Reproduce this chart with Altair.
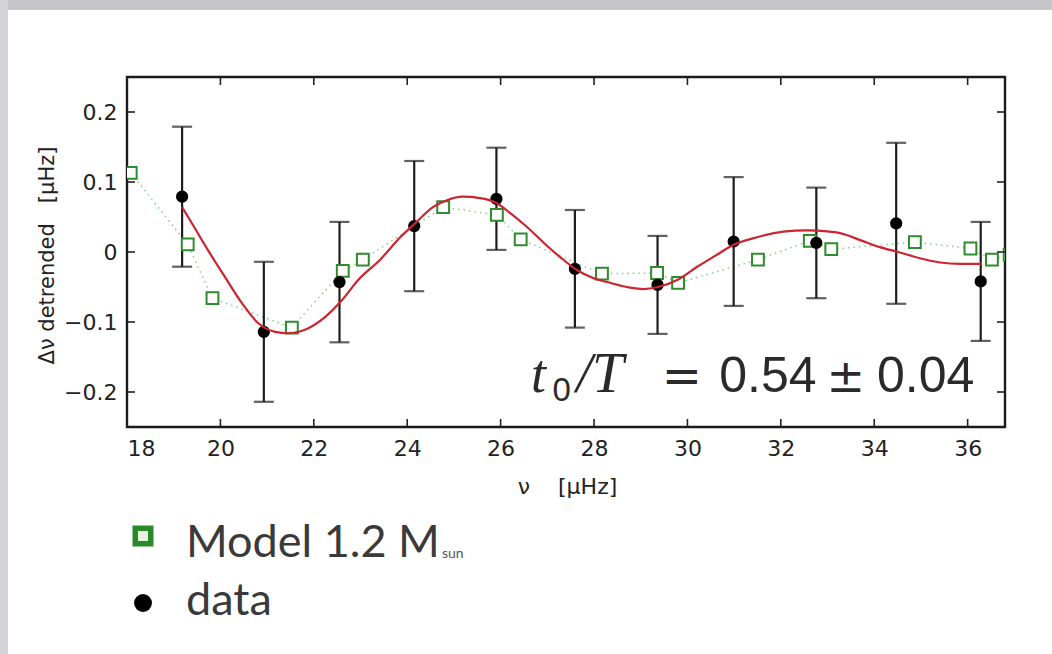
import altair as alt
import pandas as pd

# Observed mode frequencies (muHz), detrended large-separation residuals and 1-sigma errors
data_nu = [19.18, 20.93, 22.55, 24.15, 25.91, 27.59, 29.36, 30.99, 32.76, 34.47, 36.28]
data_dnu = [0.079, -0.114, -0.043, 0.037, 0.076, -0.024, -0.047, 0.015, 0.013, 0.041, -0.042]
data_err = [0.100, 0.100, 0.086, 0.093, 0.073, 0.084, 0.070, 0.092, 0.079, 0.115, 0.085]

# Stellar model (1.2 solar masses)
model_nu = [18.08, 19.30, 19.83, 21.53, 22.62, 23.05, 24.77, 25.92, 26.43, 28.17,
            29.35, 29.80, 31.51, 32.62, 33.08, 34.87, 36.06, 36.52, 36.90]
model_dnu = [0.113, 0.011, -0.066, -0.108, -0.027, -0.011, 0.064, 0.053, 0.018, -0.031,
             -0.030, -0.044, -0.011, 0.016, 0.004, 0.014, 0.005, -0.011, -0.004]

# Fitted oscillatory signal
fit_nu = [19.18, 19.39, 19.73, 20.10, 20.46, 20.80, 21.17, 21.45, 21.81, 22.24, 22.60,
          22.95, 23.42, 23.85, 24.17, 24.55, 24.85, 25.19, 25.56, 25.88, 26.20, 26.56,
          26.91, 27.27, 27.64, 27.98, 28.34, 28.77, 29.05, 29.37, 29.78, 30.21, 30.63,
          30.98, 31.49, 32.05, 32.56, 33.05, 33.27, 33.70, 34.12, 34.51, 34.98, 35.41,
          35.84, 36.31]
fit_dnu = [0.064, 0.041, 0.003, -0.036, -0.073, -0.101, -0.114, -0.116, -0.111, -0.093,
           -0.069, -0.040, -0.011, 0.021, 0.041, 0.064, 0.074, 0.079, 0.077, 0.071, 0.056,
           0.036, 0.014, -0.007, -0.026, -0.037, -0.044, -0.051, -0.053, -0.050, -0.040,
           -0.021, -0.004, 0.010, 0.021, 0.029, 0.031, 0.029, 0.027, 0.017, 0.007, 0.0,
           -0.009, -0.015, -0.017, -0.017]

x_ticks = [18, 20, 22, 24, 26, 28, 30, 32, 34, 36]
y_ticks = [-0.2, -0.1, 0.0, 0.1, 0.2]
x_domain = [18, 36.8]
y_domain = [-0.25, 0.25]

series_names = ["Model 1.2 M", "data"]

# Fit result annotation, pieced together in data coordinates
ann_text = ["t", "0", "/T", "=", "0.54", "±", "0.04"]
ann_x = [26.65, 27.11, 27.62, 29.45, 30.68, 32.98, 34.06]
ann_y = [-0.200, -0.213, -0.200, -0.200, -0.200, -0.200, -0.200]
ann_font = ["Liberation Serif", "Liberation Sans", "Liberation Serif", "DejaVu Sans",
            "Liberation Sans", "DejaVu Sans", "Liberation Sans"]
ann_style = ["italic", "normal", "italic", "normal", "normal", "normal", "normal"]
ann_size = [54, 33, 57, 48, 50, 46, 50]

W, H = 878, 350
PAD_L, PAD_T = 127, 77
NB = "\u00a0"

pts = pd.concat([
    pd.DataFrame({"nu": model_nu, "dnu": model_dnu, "series": series_names[0]}),
    pd.DataFrame({"nu": data_nu, "dnu": data_dnu, "series": series_names[1]}),
], ignore_index=True)
pts["order"] = range(len(pts))

err = pd.DataFrame({"nu": data_nu,
                    "lo": [v - e for v, e in zip(data_dnu, data_err)],
                    "hi": [v + e for v, e in zip(data_dnu, data_err)]})
model_df = pd.DataFrame({"nu": model_nu, "dnu": model_dnu})
fit_df = pd.DataFrame({"nu": fit_nu, "dnu": fit_dnu})

xs = alt.Scale(domain=x_domain, nice=False, zero=False)
ys = alt.Scale(domain=y_domain, nice=False, zero=False)

AX_FONT = "DejaVu Sans"
x_axis = alt.Axis(values=x_ticks, format="d", ticks=False, domain=False, grid=False,
                  labelFont=AX_FONT, labelFontSize=22, labelColor="#222",
                  labelPadding=11, title=f"ν{NB}{NB}{NB}{NB}[μHz]", titleFont=AX_FONT,
                  titleFontSize=22, titleFontWeight="normal", titleColor="#222",
                  titleX=W / 2 + 1, titleY=59, titleBaseline="middle")
y_axis = alt.Axis(values=y_ticks, format=".1~f", ticks=False, domain=False, grid=False,
                  labelFont=AX_FONT, labelFontSize=22, labelColor="#222",
                  labelPadding=10, title=f"Δν{NB}detrended{NB}{NB}{NB}[μHz]", titleFont=AX_FONT,
                  titleFontSize=21, titleFontWeight="normal", titleColor="#222",
                  titleX=-80, titleY=H / 2 + 3, titleBaseline="middle", titleAlign="center",
                  titleAngle=-90)

one = alt.Data(values=[{"k": 1}])

# Grey page border strips
top_strip = alt.Chart(one).mark_rect(color="#c6c6ca").encode(
    x=alt.value(-PAD_L), x2=alt.value(1052 - PAD_L),
    y=alt.value(-PAD_T), y2=alt.value(10 - PAD_T))
left_strip = alt.Chart(one).mark_rect(color="#d4d4d8").encode(
    x=alt.value(-PAD_L), x2=alt.value(8 - PAD_L),
    y=alt.value(-PAD_T), y2=alt.value(654 - PAD_T))

model_line = alt.Chart(model_df).mark_line(
    color="#6cbf6c", strokeWidth=1.5, strokeDash=[1.5, 4], opacity=0.8, clip=True
).encode(x=alt.X("nu:Q", scale=xs, axis=x_axis), y=alt.Y("dnu:Q", scale=ys, axis=y_axis))

err_stem = alt.Chart(err).mark_rule(color="#1e1e1e", strokeWidth=2.2).encode(
    x="nu:Q", y="lo:Q", y2="hi:Q")
err_lo = alt.Chart(err).mark_tick(color="#1e1e1e", orient="horizontal", size=20,
                                  thickness=2.2).encode(x="nu:Q", y="lo:Q")
err_hi = alt.Chart(err).mark_tick(color="#1e1e1e", orient="horizontal", size=20,
                                  thickness=2.2).encode(x="nu:Q", y="hi:Q")

points = alt.Chart(pts).mark_point(strokeWidth=2, opacity=1, clip=True).encode(
    x="nu:Q", y="dnu:Q",
    shape=alt.Shape("series:N", scale=alt.Scale(domain=series_names, range=["square", "circle"]), legend=None),
    stroke=alt.Stroke("series:N", scale=alt.Scale(domain=series_names, range=["#2e8b2e", "#000000"]), legend=None),
    fill=alt.Fill("series:N", scale=alt.Scale(domain=series_names, range=["#ffffff", "#000000"]), legend=None),
    size=alt.Size("series:N", scale=alt.Scale(domain=series_names, range=[140, 105]), legend=None),
    order="order:Q",
)

fit_line = alt.Chart(fit_df).mark_line(color="#cc2430", strokeWidth=2.2,
                                       interpolate="monotone").encode(x="nu:Q", y="dnu:Q")

# Inward-pointing ticks on all four sides of the box
xt = pd.DataFrame({"v": x_ticks})
yt = pd.DataFrame({"v": y_ticks})
tk = dict(color="#222", strokeWidth=1.6)
tick_b = alt.Chart(xt).mark_rule(**tk).encode(x="v:Q", y=alt.value(H), y2=alt.value(H - 8))
tick_t = alt.Chart(xt).mark_rule(**tk).encode(x="v:Q", y=alt.value(0), y2=alt.value(8))
tick_l = alt.Chart(yt).mark_rule(**tk).encode(y="v:Q", x=alt.value(0), x2=alt.value(8))
tick_r = alt.Chart(yt).mark_rule(**tk).encode(y="v:Q", x=alt.value(W), x2=alt.value(W - 8))

# Annotation pieces, one text layer each
ann_layers = []
for t, x, y, f, st, sz in zip(ann_text, ann_x, ann_y, ann_font, ann_style, ann_size):
    piece = pd.DataFrame({"x": [x], "y": [y], "t": [t]})
    ann_layers.append(
        alt.Chart(piece).mark_text(align="left", baseline="alphabetic", color="#2a2a2a",
                                   font=f, fontStyle=st, fontSize=sz).encode(
            x="x:Q", y="y:Q", text="t:N"))

# Key below the plot (positions relative to the plot origin)
KEY_SYM_X = 143 - PAD_L
KEY_TXT_X = 186 - PAD_L
key_rows = [(536 - PAD_T, 557 - PAD_T), (603 - PAD_T, 615 - PAD_T)]
key_layers = [
    alt.Chart(one).mark_point(shape="square", size=240, strokeWidth=5.5, stroke="#2a8a2a",
                              fill="#e6f3e0", opacity=1).encode(
        x=alt.value(KEY_SYM_X), y=alt.value(key_rows[0][0])),
    alt.Chart(one).mark_point(shape="circle", size=320, strokeWidth=0, fill="#000000",
                              opacity=1, filled=True).encode(
        x=alt.value(KEY_SYM_X), y=alt.value(key_rows[1][0])),
]
for name, (_, base) in zip(series_names, key_rows):
    key_layers.append(
        alt.Chart(one).mark_text(text=name, font="Lato", fontSize=45, color="#3a3a3a",
                                 align="left", baseline="alphabetic").encode(
            x=alt.value(KEY_TXT_X), y=alt.value(base)))
key_layers.append(
    alt.Chart(one).mark_text(text="sun", font="Lato", fontSize=14, color="#555",
                             align="left", baseline="alphabetic").encode(
        x=alt.value(442 - PAD_L), y=alt.value(558 - PAD_T)))

chart = alt.layer(
    top_strip, left_strip, model_line, err_stem, err_lo, err_hi, points, fit_line,
    tick_b, tick_t, tick_l, tick_r, *ann_layers, *key_layers
).properties(
    width=W, height=H,
    autosize=alt.AutoSizeParams(type="none"),
    padding={"left": PAD_L, "top": PAD_T, "right": 1052 - PAD_L - W, "bottom": 654 - PAD_T - H},
    background="white",
).configure_view(stroke="#1a1a1a", strokeWidth=2.4, fill="white")

chart.save("out.html", embed_options={"renderer": "svg", "actions": False})
